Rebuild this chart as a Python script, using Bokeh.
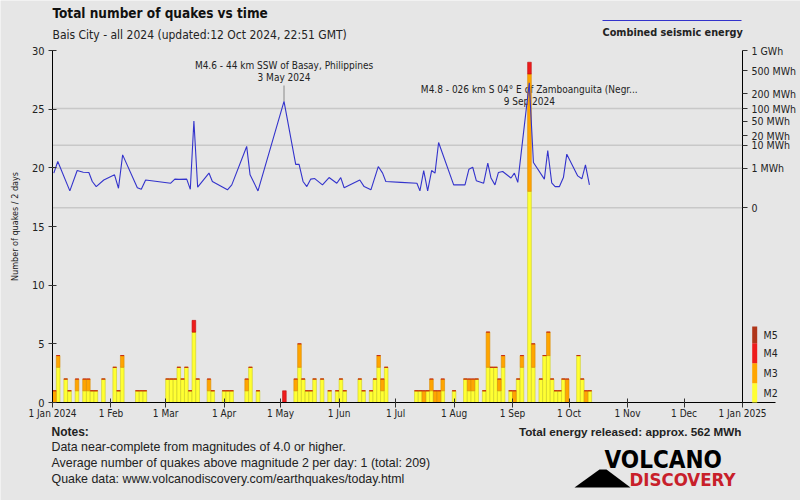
import numpy as np
import pandas as pd
from bokeh.plotting import figure
from bokeh.models import (ColumnDataSource, LinearAxis, FixedTicker, Label,
                          BoxAnnotation, PolyAnnotation)
from bokeh.core.properties import value
from bokeh.embed import file_html
from bokeh.resources import INLINE

# ---------------- data ----------------
chart_title = "Total number of quakes vs time"
chart_subtitle = "Bais City - all 2024 (updated:12 Oct 2024, 22:51 GMT)"
y_axis_label = "Number of quakes / 2 days"

month_starts = ["2024-01-01", "2024-02-01", "2024-03-01", "2024-04-01", "2024-05-01",
                "2024-06-01", "2024-07-01", "2024-08-01", "2024-09-01", "2024-10-01",
                "2024-11-01", "2024-12-01", "2025-01-01"]
month_labels = ["1 Jan 2024", "1 Feb", "1 Mar", "1 Apr", "1 May", "1 Jun", "1 Jul",
                "1 Aug", "1 Sep", "1 Oct", "1 Nov", "1 Dec", "1 Jan 2025"]
count_ticks = [0, 5, 10, 15, 20, 25, 30]

# 2-day bins (start date) with number of quakes per magnitude class
bin_start = ["2024-01-01", "2024-01-03", "2024-01-07", "2024-01-09", "2024-01-13", "2024-01-17",
             "2024-01-19", "2024-01-21", "2024-01-23", "2024-01-27", "2024-02-02", "2024-02-04",
             "2024-02-06", "2024-02-14", "2024-02-16", "2024-02-18", "2024-03-01", "2024-03-03",
             "2024-03-05", "2024-03-07", "2024-03-09", "2024-03-11", "2024-03-13", "2024-03-15",
             "2024-03-17", "2024-03-23", "2024-03-25", "2024-03-31", "2024-04-02", "2024-04-04",
             "2024-04-12", "2024-04-14", "2024-04-18", "2024-05-02", "2024-05-08", "2024-05-10",
             "2024-05-12", "2024-05-14", "2024-05-16", "2024-05-18", "2024-05-22", "2024-05-26",
             "2024-05-30", "2024-06-01", "2024-06-03", "2024-06-11", "2024-06-13", "2024-06-17",
             "2024-06-19", "2024-06-21", "2024-06-23", "2024-06-25", "2024-07-11", "2024-07-13",
             "2024-07-15", "2024-07-17", "2024-07-19", "2024-07-21", "2024-07-23", "2024-07-25",
             "2024-07-31", "2024-08-06", "2024-08-08", "2024-08-10", "2024-08-12", "2024-08-16",
             "2024-08-18", "2024-08-20", "2024-08-22", "2024-08-24", "2024-08-26", "2024-08-30",
             "2024-09-01", "2024-09-03", "2024-09-05", "2024-09-09", "2024-09-11", "2024-09-15",
             "2024-09-17", "2024-09-19", "2024-09-21", "2024-09-23", "2024-09-25", "2024-09-27",
             "2024-09-29", "2024-10-05", "2024-10-07", "2024-10-09", "2024-10-11"]
n_m2 = [0, 3, 2, 1, 1, 1, 1, 1, 1, 2, 3, 1, 3, 1, 1, 1, 2, 2, 2, 3, 2, 3, 1, 6, 2, 1, 1, 1, 1, 1,
        1, 3, 1, 0, 1, 3, 2, 1, 1, 2, 2, 1, 1, 2, 1, 2, 1, 1, 2, 3, 1, 3, 1, 1, 0, 1, 1, 0, 0, 1,
        1, 2, 1, 1, 2, 1, 3, 3, 3, 1, 3, 1, 0, 2, 3, 18, 3, 2, 4, 4, 2, 1, 1, 2, 0, 4, 2, 0, 1]
n_m3 = [1, 1, 0, 0, 1, 1, 1, 0, 0, 0, 0, 0, 1, 0, 0, 0, 0, 0, 0, 0, 0, 0, 0, 0, 0, 1, 0, 0, 0, 0,
        1, 0, 0, 0, 1, 2, 0, 0, 0, 0, 0, 0, 0, 0, 0, 0, 0, 0, 0, 1, 1, 0, 0, 0, 1, 0, 1, 1, 1, 1,
        0, 0, 1, 1, 0, 0, 3, 0, 0, 1, 1, 0, 1, 0, 1, 10, 2, 0, 0, 2, 0, 0, 0, 0, 2, 0, 0, 1, 0]
n_m4 = [0, 0, 0, 0, 0, 0, 0, 0, 0, 0, 0, 0, 0, 0, 0, 0, 0, 0, 0, 0, 0, 0, 0, 1, 0, 0, 0, 0, 0, 0,
        0, 0, 0, 1, 0, 0, 0, 0, 0, 0, 0, 0, 0, 0, 0, 0, 0, 0, 0, 0, 0, 0, 0, 0, 0, 0, 0, 0, 0, 0,
        0, 0, 0, 0, 0, 0, 0, 0, 0, 0, 0, 0, 0, 0, 0, 1, 0, 0, 0, 0, 0, 0, 0, 0, 0, 0, 0, 0, 0]

# combined seismic energy (time in days since 1 Jan 2024, energy in MWh)
energy_day = [0.7, 2.8, 9.2, 13.1, 16.3, 19.3, 21.1, 23.2, 27.2, 32.9, 35.0, 37.2, 45.0, 47.1,
              49.4, 62.7, 64.9, 67.1, 71.2, 73.1, 75.0, 77.0, 83.0, 84.8, 92.8, 95.1, 103.0,
              104.8, 109.0, 122.8, 129.0, 130.8, 132.9, 134.9, 137.0, 139.1, 143.2, 146.7,
              150.8, 152.9, 154.7, 163.0, 165.3, 168.9, 172.8, 175.1, 176.8, 184.8, 193.3,
              194.9, 196.9, 199.0, 201.1, 202.9, 204.8, 212.8, 218.8, 220.9, 222.9, 224.8,
              228.7, 230.9, 232.6, 234.7, 236.5, 238.8, 243.2, 245.0, 246.8, 252.9, 255.1,
              260.9, 262.7, 264.8, 266.6, 268.9, 271.0, 272.8, 278.6, 280.8, 282.7, 284.8]
energy_mwh = [0.52, 2.2, 0.014, 0.74, 0.59, 0.56, 0.13, 0.044, 0.17, 0.40, 0.029, 4.3, 0.033,
              0.022, 0.17, 0.092, 0.20, 0.19, 0.20, 0.022, 51, 0.038, 0.52, 0.13, 0.019, 0.065,
              9.0, 0.40, 0.014, 142, 1.6, 1.6, 0.13, 0.044, 0.20, 0.22, 0.065, 0.26, 0.092,
              0.26, 0.033, 0.17, 0.044, 0.019, 1.23, 0.52, 0.13, 0.11, 0.092, 0.014, 0.74,
              0.014, 0.74, 0.52, 12.3, 0.065, 0.065, 0.88, 1.13, 0.15, 0.092, 1.83, 0.24,
              0.065, 0.56, 0.65, 0.24, 0.52, 0.11, 316, 1.96, 0.20, 6.4, 0.10, 0.044, 0.044,
              0.26, 4.6, 0.34, 0.21, 1.52, 0.065]
energy_ticks = [0, 1, 10, 20, 50, 100, 200, 500, 1000]
energy_tick_labels = ["0", "1 MWh", "10 MWh", "20 MWh", "50 MWh", "100 MWh", "200 MWh",
                      "500 MWh", "1 GWh"]
energy_grid = [0, 1, 10, 100]

event_date = ["2024-05-03", "2024-09-09"]
event_text = ["M4.6 - 44 km SSW of Basay, Philippines",
              "M4.8 - 026 km S 04\u00b0 E of Zamboanguita (Negr..."]
event_date_text = ["3 May 2024", "9 Sep 2024"]

mag_classes = ["M2", "M3", "M4", "M5"]
legend_label = "Combined seismic energy"
notes_title = "Notes:"
notes_lines = ["Data near-complete from magnitudes of 4.0 or higher.",
               "Average number of quakes above magnitude 2 per day: 1 (total: 209)",
               "Quake data: www.volcanodiscovery.com/earthquakes/today.html"]
energy_total = "Total energy released: approx. 562 MWh"
logo_top, logo_bottom = "VOLCANO", "DISCOVERY"

# ---------------- style ----------------
BG = "#e6e6e6"
FONT = "DejaVu Sans Condensed"
NOTE_FONT = "Liberation Sans"
TXT = "#222222"
MAG_FILL = ["#ffff33", "#ffa500", "#ee1c1c", "#b0361a"]
MAG_LINE = ["#cccc22", "#d98c00", "#c01010", "#8a2a10"]
LINE_BLUE = "#3333cc"
# energy -> left-axis units (fifth-root scale, 0 at 16.6, 1 GWh at 30)
E_BASE, E_SPAN, E_MAX, E_POW = 16.6, 13.4, 1000.0, 0.2

W, H = 800, 500
PLOT_L, PLOT_W, PLOT_TOP, PLOT_BOTTOM = 52, 690, 50, 402   # pixel extent of the data area


def e2y(e):
    return E_BASE + E_SPAN * (np.asarray(e, dtype=float) / E_MAX) ** E_POW


t0 = pd.Timestamp("2024-01-01")


def to_day(s):
    return float((pd.Timestamp(s) - t0) / pd.Timedelta(days=1))


month_day = [to_day(d) for d in month_starts]
px_day = PLOT_W / (month_day[-1] - month_day[0])
px_unit = (PLOT_BOTTOM - PLOT_TOP) / (count_ticks[-1] - count_ticks[0])
x_start = month_day[0] - PLOT_L / px_day
x_end = month_day[0] + (W - PLOT_L) / px_day
y_top = PLOT_BOTTOM / px_unit
y_bot = -(H - PLOT_BOTTOM) / px_unit

p = figure(width=W, height=H, output_backend="svg", toolbar_location=None,
           x_range=(x_start, x_end), y_range=(y_bot, y_top),
           min_border_left=0, min_border_right=0, min_border_top=0,
           min_border_bottom=0, background_fill_color=BG, border_fill_color=BG,
           outline_line_color=None)
p.xgrid.visible = False
p.ygrid.visible = False

# energy grid lines
gy = [float(v) for v in e2y(energy_grid)]
p.segment(x0=[month_day[0]] * len(gy), x1=[month_day[-1]] * len(gy), y0=gy, y1=gy,
          line_color="#c8c8c8", line_width=1.5)

# event annotation texts (under bars)
peak_x, peak_y = [], []
ed = np.array(energy_day)
ey = e2y(energy_mwh)
for d in event_date:
    c = to_day(d)
    m = np.abs(ed - (c + 0.5)) < 1.5
    i = np.where(m)[0][np.argmax(ey[m])]
    peak_x.append(ed[i])
    peak_y.append(ey[i])
ann_dy = [3.05, -0.56]   # offset of first text line from the peak (y units)
LINE_GAP = 1.0
t_x, t_y, t_s = [], [], []
for k in range(len(event_date)):
    t_x += [peak_x[k], peak_x[k]]
    t_y += [peak_y[k] + ann_dy[k], peak_y[k] + ann_dy[k] - LINE_GAP]
    t_s += [event_text[k], event_date_text[k]]
    if ann_dy[k] > 0:
        p.segment(x0=peak_x[k], y0=peak_y[k], x1=peak_x[k],
                  y1=peak_y[k] + ann_dy[k] - LINE_GAP - 0.7, line_color="#999999",
                  line_width=1.2)
p.text(x=t_x, y=t_y, text=t_s, text_font=value(FONT), text_font_size="10px",
       text_color=TXT, text_align="center", text_baseline="middle")

# stacked bars
bx = np.array([to_day(d) for d in bin_start]) + 1.0
src = ColumnDataSource(dict(x=bx, M2=n_m2, M3=n_m3, M4=n_m4))
p.vbar_stack(["M2", "M3", "M4"], x="x", width=1.95, source=src,
             fill_color=MAG_FILL[:3], line_color=MAG_LINE[:3], line_width=0.6)

# energy line
p.line(energy_day, e2y(energy_mwh), line_color=LINE_BLUE, line_width=1.1)

# axes (drawn at fixed data positions so the surrounding texts can share the canvas)
ax = p.xaxis[0]
ax.fixed_location = count_ticks[0]
ax.bounds = (month_day[0], month_day[-1] + 17.5)
ax.ticker = FixedTicker(ticks=month_day)
ax.major_label_overrides = {d: l for d, l in zip(month_day, month_labels)}
ax.major_tick_in = 4
ax.major_tick_out = 5
ax.minor_tick_line_color = None
ax.major_label_standoff = 0
ax.major_label_text_font = FONT
ax.major_label_text_font_size = "10px"
ax.major_label_text_color = TXT
ax.axis_line_color = "black"
ax.major_tick_line_color = "#333333"

ay = p.yaxis[0]
ay.fixed_location = month_day[0]
ay.bounds = (count_ticks[0], count_ticks[-1])
ay.ticker = FixedTicker(ticks=count_ticks)
ay.major_tick_in = 4
ay.major_tick_out = 4
ay.minor_tick_line_color = None
ay.major_label_standoff = 4
ay.major_label_text_font = FONT
ay.major_label_text_font_size = "11px"
ay.major_label_text_color = TXT
ay.axis_line_color = "black"
ay.major_tick_line_color = "#333333"

e_pos = [float(v) for v in e2y(energy_ticks)]
ar = LinearAxis(ticker=FixedTicker(ticks=e_pos), fixed_location=month_day[-1],
                bounds=(count_ticks[0], count_ticks[-1]),
                major_label_overrides={v: l for v, l in zip(e_pos, energy_tick_labels)})
ar.major_tick_in = 0
ar.major_tick_out = 5
ar.minor_tick_line_color = None
ar.major_label_standoff = 4
ar.major_label_text_font = FONT
ar.major_label_text_font_size = "10.5px"
ar.major_label_text_color = TXT
ar.axis_line_color = "black"
ar.major_tick_line_color = "#333333"
p.add_layout(ar, "right")


# ---------------- texts around the data area (screen units, frame = whole canvas) ----------------
def lab(X, Y, text, size, font=FONT, style="normal", color=TXT, align="left", angle=0.0):
    p.add_layout(Label(x=X, y=H - Y, x_units="screen", y_units="screen", text=text,
                       text_font=font, text_font_size=size, text_font_style=style,
                       text_color=color, text_align=align, text_baseline="middle",
                       angle=angle))


def box(X0, X1, Y0, Y1, color):
    p.add_layout(BoxAnnotation(left=X0, right=X1, bottom=H - Y1, top=H - Y0,
                               left_units="screen", right_units="screen",
                               bottom_units="screen", top_units="screen",
                               fill_color=color, fill_alpha=1, line_color=None))


# y axis title (rotated)
lab(14, (PLOT_TOP + PLOT_BOTTOM) / 2, y_axis_label, "9px", align="center", angle=np.pi / 2)

lab(52, 12, chart_title, "13.5px", style="bold", color="#111111")
lab(52, 34, chart_subtitle, "12px")
box(602, 741, 19.4, 20.6, LINE_BLUE)
lab(602, 32, legend_label, "10.8px", style="bold")

# magnitude colour key
key_edges = [402, 382.7, 362.7, 342.7, 326]
for k, name in enumerate(mag_classes):
    box(751.7, 756.7, key_edges[k + 1], key_edges[k], MAG_FILL[k])
    lab(763, (key_edges[k] + key_edges[k + 1]) / 2, name, "10.5px")

# notes
lab(51, 431, notes_title, "12px", font=NOTE_FONT, style="bold")
for k, line in enumerate(notes_lines):
    lab(51, 446 + 16 * k, line, "12.4px", font=NOTE_FONT)
lab(741, 431, energy_total, "11.7px", font=NOTE_FONT, style="bold", align="right")

# logo
p.add_layout(PolyAnnotation(xs=[574, 599, 606, 630], ys=[H - 487, H - 469, H - 469, H - 487],
                            xs_units="screen", ys_units="screen", fill_color="black",
                            fill_alpha=1, line_color=None))
lab(604, 459.5, logo_top, "24px", style="bold", color="black")
lab(629, 478.5, logo_bottom, "18.5px", style="bold", color="#c8202a")

open("out.html", "w").write(file_html(p, INLINE))
